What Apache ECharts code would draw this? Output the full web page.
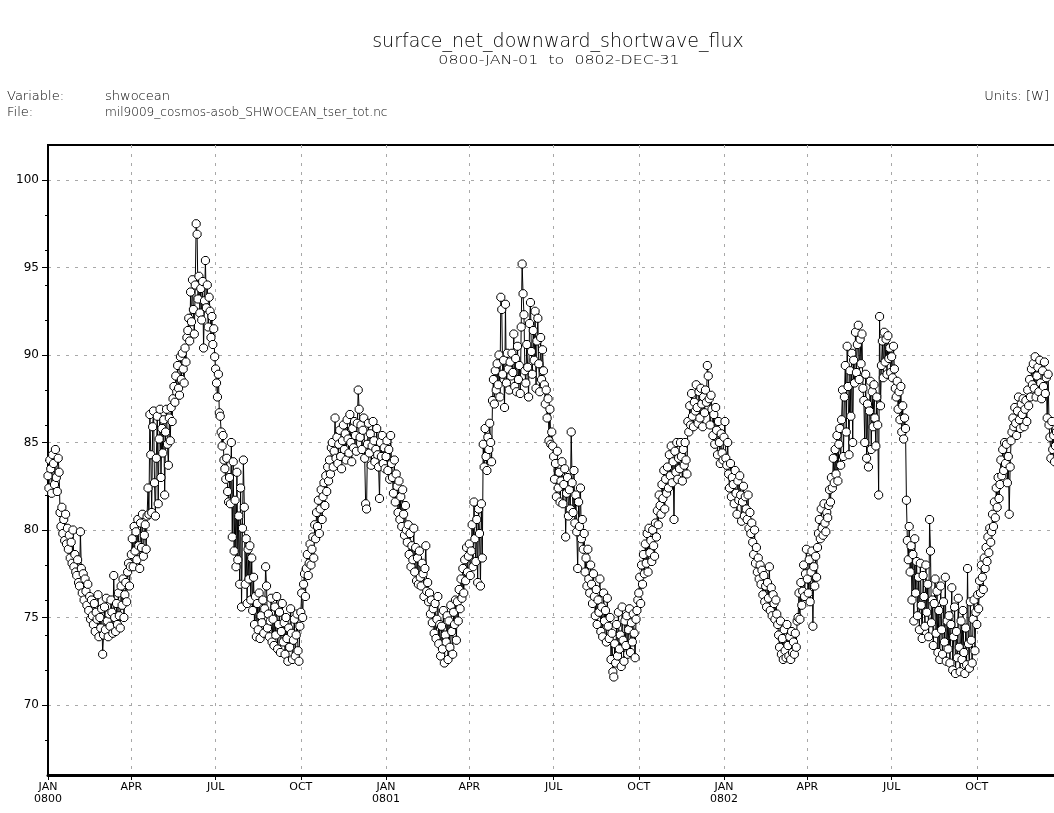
<!DOCTYPE html>
<html>
<head>
<meta charset="utf-8">
<script src="https://cdn.jsdelivr.net/npm/echarts@6/dist/echarts.min.js"></script>
<style>
  html, body { margin: 0; padding: 0; background: #fff; }
  #chart { width: 1054px; height: 813px; }
</style>
</head>
<body>
<div id="chart"></div>
<script>
// noleap calendar, one value per day
const years = ['0800', '0801', '0802']
const quarterNames = ['JAN', 'APR', 'JUL', 'OCT']
const quarterStarts = [0, 90, 181, 273]
const monthNames = ['JAN','FEB','MAR','APR','MAY','JUN','JUL','AUG','SEP','OCT','NOV','DEC']
const monthDays = [31, 28, 31, 30, 31, 30, 31, 31, 30, 31, 30, 31]
const yTicks = [70, 75, 80, 85, 90, 95, 100]

const shw0800 = [
  83.1, 82.4, 84.0, 83.5, 82.1, 84.3, 83.8, 82.6, 84.6, 83.0, 82.2, 84.1, 83.3,
  81.0, 80.2, 81.3, 79.8, 80.6, 79.4, 80.9, 79.2, 80.1, 78.9, 79.7, 78.4, 79.3, 78.1, 80.0, 77.9, 78.6, 77.6,
  77.4, 78.3, 77.0, 76.8, 79.9, 77.8, 76.4, 77.5, 76.0, 77.2, 76.5, 75.7, 76.9, 75.4, 76.2, 74.9, 76.0, 75.1, 74.6, 75.8, 74.2, 75.3, 74.9, 76.3, 73.9, 75.0, 74.4, 75.5,
  72.9, 74.0, 75.6, 74.3, 76.1, 74.8, 73.9, 75.2, 74.5, 76.0, 75.3, 74.1, 77.4, 75.0, 74.2, 75.8, 74.6, 76.4, 75.1, 74.4, 76.8, 75.7, 77.2, 75.0, 76.3, 77.0, 75.9, 77.6, 78.1, 76.8, 77.9,
  78.6, 79.5, 77.9, 80.2, 78.8, 79.9, 78.3, 80.6, 79.1, 77.8, 80.4, 79.0, 80.9, 78.5, 79.7, 80.3, 78.9, 80.8, 82.4, 80.9, 86.6, 84.3, 81.0, 85.9, 86.8, 82.7, 80.8, 84.1, 86.5, 81.5,
  85.2, 86.9, 83.0, 85.8, 84.4, 86.3, 82.0, 85.6, 86.9, 84.9, 83.7, 86.4, 85.1, 87.0, 86.2, 87.5, 88.2, 87.3, 88.8, 87.9, 89.4, 88.1, 87.7, 89.9, 88.6, 90.1, 89.2, 88.4, 90.4, 89.6, 91.0,
  91.4, 92.1, 90.8, 93.6, 91.9, 94.3, 92.6, 91.2, 94.0, 97.5, 96.9, 93.2, 94.5, 92.4, 93.8, 92.0, 94.2, 90.4, 93.1, 95.4, 92.7, 94.0, 91.6, 93.3, 92.5, 91.0, 92.2, 90.6, 91.5, 89.9,
  89.2, 88.4, 87.6, 88.9, 86.7, 86.5, 85.6, 84.8, 85.4, 84.0, 83.5, 82.9, 84.1, 82.2, 81.6, 83.0, 81.5, 85.0, 79.6, 83.9, 78.8, 81.7, 77.9, 83.3, 78.3, 80.8, 76.9, 82.4, 75.6, 80.1, 84.0,
  81.3, 76.9, 79.5, 75.8, 78.9, 77.2, 79.1, 76.0, 78.4, 75.4, 77.3, 74.6, 76.2, 73.9, 75.8, 74.3, 76.4, 73.8, 75.1, 74.7, 76.0, 74.1, 75.5, 77.9, 76.8, 74.4, 75.2, 73.9, 74.8, 76.1, 73.6,
  74.9, 73.4, 75.6, 74.0, 76.2, 73.2, 74.6, 75.3, 73.0, 74.2, 75.8, 73.6, 74.7, 72.9, 75.0, 73.8, 72.5, 74.4, 73.3, 75.5, 74.1, 72.6, 73.7, 74.9, 72.8, 74.0, 75.2, 73.1, 72.5, 74.5,
  75.3, 76.4, 75.0, 76.9, 77.5, 76.2, 77.8, 78.6, 77.4, 78.1, 79.2, 78.0, 78.9, 79.6, 78.4, 80.3, 79.5, 81.0, 80.2, 81.7, 79.8, 81.2, 82.3, 80.6, 81.9, 82.7, 81.4, 83.1, 82.2, 83.6, 82.8,
  84.0, 83.2, 84.7, 85.0, 83.6, 84.5, 86.4, 84.1, 85.3, 83.8, 84.9, 85.7, 84.2, 83.5, 85.1, 86.0, 84.6, 85.5, 84.0, 86.3, 85.2, 84.4, 86.6, 85.0, 83.9, 85.8, 84.7, 86.2, 85.4, 84.5,
  86.1, 88.0, 86.9, 85.3, 86.0, 84.6, 85.7, 86.4, 84.1, 81.5, 81.2, 84.9, 86.1, 84.4, 85.5, 83.7, 84.8, 86.2, 85.1, 83.9, 84.6, 85.8, 84.3, 83.6, 81.8, 85.0, 84.2, 85.4, 83.8, 84.7, 83.5
]

const shw0801 = [
  84.2, 85.1, 83.4, 84.6, 82.9, 85.4, 83.8, 83.0, 82.1, 84.0, 81.6, 83.2, 82.5, 81.0, 82.8, 80.6, 81.9, 80.2, 82.3, 80.9, 79.7, 81.4, 80.0, 79.3, 80.3, 78.6, 79.8, 77.9, 79.1, 78.3, 80.1,
  77.6, 79.0, 77.1, 78.4, 76.9, 78.8, 77.3, 76.8, 78.1, 77.5, 76.2, 77.8, 79.1, 76.5, 77.0, 75.9, 76.4, 75.2, 76.0, 74.7, 75.5, 74.1, 75.8, 73.8, 74.9, 76.2, 73.5, 74.6,
  72.8, 74.5, 73.2, 75.4, 72.4, 74.0, 73.6, 75.1, 72.6, 74.8, 73.3, 75.7, 74.2, 72.9, 75.3, 74.6, 76.0, 73.7, 75.9, 74.8, 76.6, 75.5, 77.2, 76.1, 77.8, 76.4, 78.3, 77.1, 79.0, 77.6, 78.5,
  79.2, 77.4, 78.8, 80.3, 77.9, 81.6, 79.5, 78.2, 80.6, 77.0, 81.2, 79.8, 76.8, 81.5, 78.4, 84.9, 83.6, 85.8, 84.2, 83.4, 85.3, 84.6, 86.1, 85.0, 83.9, 87.4, 88.6, 87.2, 89.1, 88.0,
  89.5, 88.3, 90.0, 87.6, 93.3, 92.6, 88.9, 89.7, 87.0, 92.9, 88.4, 90.1, 89.2, 88.0, 89.6, 88.8, 90.1, 89.0, 91.2, 88.2, 89.8, 87.9, 90.5, 88.6, 89.4, 87.8, 91.6, 95.2, 93.5, 92.3, 89.1,
  88.4, 90.6, 89.3, 87.6, 91.8, 93.0, 90.2, 88.9, 91.4, 89.7, 92.5, 88.1, 90.8, 92.1, 89.5, 87.9, 91.0, 88.6, 90.3, 89.1, 88.3, 87.2, 88.0, 86.4, 87.5, 85.1, 86.9, 84.9, 85.6, 84.8,
  84.2, 82.9, 83.8, 81.9, 84.5, 82.4, 83.3, 81.6, 82.8, 83.9, 81.5, 82.6, 83.5, 79.6, 82.1, 83.0, 80.8, 82.3, 81.2, 85.6, 82.7, 81.0, 83.4, 80.4, 82.0, 79.9, 77.8, 81.6, 80.2, 82.4, 79.5,
  80.6, 78.9, 79.8, 77.6, 78.4, 76.8, 78.9, 77.2, 76.4, 78.0, 76.9, 75.8, 77.5, 76.2, 75.1, 76.6, 74.6, 76.0, 75.3, 77.2, 74.2, 75.6, 73.9, 76.4, 74.8, 75.4, 73.6, 76.1, 74.5, 73.8, 75.0,
  72.6, 74.1, 71.9, 71.6, 73.5, 72.4, 74.6, 72.8, 75.3, 73.2, 74.0, 72.2, 75.6, 73.7, 72.5, 74.8, 73.4, 75.1, 72.9, 74.3, 75.5, 73.0, 74.7, 73.6, 75.2, 74.1, 72.7, 74.9, 75.4, 76.0,
  76.4, 77.3, 75.8, 78.0, 76.9, 78.6, 77.5, 79.2, 78.1, 79.8, 77.6, 80.1, 78.7, 79.4, 78.2, 80.0, 79.1, 78.5, 80.4, 79.6, 81.1, 80.3, 82.0, 81.4, 80.9, 82.6, 81.8, 83.4, 81.2, 82.9, 82.1,
  83.6, 82.4, 84.3, 83.1, 84.8, 82.7, 83.9, 80.6, 84.5, 83.3, 85.0, 82.9, 84.1, 83.5, 85.0, 84.2, 82.8, 84.6, 83.7, 85.0, 84.0, 83.2, 86.2, 85.6, 87.1, 86.0, 87.8, 86.5, 85.9, 87.3,
  86.8, 88.3, 87.0, 86.1, 87.9, 86.4, 88.1, 87.2, 85.9, 87.6, 86.7, 88.0, 87.3, 89.4, 88.8, 87.5, 86.0, 87.7, 86.9, 85.4, 86.6, 84.9, 87.0, 85.7, 84.3, 86.2, 85.0, 83.8, 85.5, 84.4, 84.0
]

const shw0802 = [
  85.3, 86.2, 84.1, 83.7, 85.0, 83.2, 82.4, 83.8, 81.9, 83.0, 82.6, 81.5, 83.4, 82.1, 80.9, 82.8, 81.7, 83.1, 82.0, 80.5, 81.6, 82.5, 80.8, 81.9, 81.2, 80.6, 82.0, 80.1, 81.0, 79.8, 80.4,
  79.3, 78.6, 80.0, 78.1, 79.0, 77.6, 78.4, 77.2, 78.0, 76.9, 77.7, 76.3, 77.4, 75.9, 76.8, 75.6, 77.0, 76.1, 77.9, 75.4, 76.7, 75.1, 76.3, 75.8, 74.9, 76.0, 75.2, 74.6,
  74.0, 73.3, 74.8, 72.9, 73.8, 72.6, 74.3, 73.1, 72.7, 74.6, 73.4, 72.8, 73.9, 72.6, 74.2, 73.0, 73.6, 72.9, 74.1, 73.3, 74.8, 75.0, 76.4, 74.9, 77.0, 75.7, 76.5, 78.0, 76.2, 77.5, 78.9,
  77.2, 76.4, 78.3, 75.9, 77.6, 78.8, 74.5, 77.9, 76.8, 78.5, 77.3, 79.0, 79.8, 80.6, 79.5, 81.2, 80.1, 79.7, 81.5, 80.4, 79.9, 81.0, 80.7, 81.4, 82.3, 81.6, 83.0, 82.4, 84.1, 82.7,
  84.6, 83.2, 85.4, 82.8, 84.9, 85.8, 83.7, 86.3, 88.0, 84.2, 87.6, 89.4, 85.6, 90.5, 88.2, 84.3, 89.1, 86.5, 90.1, 85.0, 89.7, 88.4, 91.3, 89.0, 90.6, 91.7, 88.6, 90.9, 89.5, 91.2, 88.1,
  87.4, 85.0, 88.9, 84.1, 87.2, 83.6, 86.8, 88.5, 84.6, 87.9, 85.9, 88.3, 86.4, 84.8, 87.6, 86.0, 82.0, 92.2, 87.1, 89.4, 90.8, 88.7, 91.3, 89.6, 90.9, 88.9, 91.1, 89.8, 90.4, 89.0,
  89.9, 88.7, 90.5, 89.2, 88.1, 87.6, 88.5, 86.9, 87.9, 86.3, 88.2, 85.6, 87.1, 85.2, 86.4, 85.8, 81.7, 79.4, 78.3, 80.2, 77.6, 79.1, 76.0, 78.6, 74.8, 79.5, 76.4, 78.2, 75.1, 77.3, 74.3,
  78.1, 75.7, 73.8, 77.4, 76.2, 74.5, 78.0, 75.3, 76.9, 73.9, 80.6, 78.8, 74.7, 76.0, 73.4, 75.8, 77.2, 74.1, 76.5, 73.0, 75.4, 72.6, 76.8, 74.3, 72.9, 75.9, 73.6, 77.3, 72.5, 74.8, 73.2,
  75.1, 72.4, 74.6, 76.7, 72.0, 73.9, 75.6, 71.8, 74.2, 72.7, 76.1, 73.3, 71.9, 74.8, 72.6, 75.4, 73.0, 71.8, 74.4, 72.3, 77.8, 73.5, 72.1, 75.9, 73.7, 72.4, 74.9, 76.0, 73.1, 75.3,
  74.6, 76.3, 75.5, 77.1, 76.4, 78.0, 77.3, 76.6, 78.4, 77.8, 79.0, 78.2, 79.6, 78.7, 80.1, 79.3, 79.9, 80.9, 80.2, 81.6, 80.7, 82.4, 81.3, 83.0, 81.8, 82.6, 84.0, 83.1, 84.6, 83.4, 85.0,
  83.8, 84.9, 82.7, 84.2, 80.9, 83.6, 85.1, 85.6, 86.4, 85.9, 87.0, 86.1, 85.4, 86.8, 87.6, 86.3, 85.8, 87.2, 86.6, 87.5, 85.9, 86.9, 87.4, 86.2, 88.0, 87.1, 88.6, 87.6, 89.2, 88.3,
  89.5, 88.1, 89.9, 87.6, 88.8, 89.3, 87.9, 89.7, 88.4, 87.5, 89.1, 88.2, 89.6, 87.8, 88.7, 86.4, 88.9, 86.0, 85.3, 84.1, 86.2, 84.6, 85.4, 83.9, 84.8, 85.6, 84.3, 85.1, 84.7, 85.9, 84.5
]

// day categories; one extra (JAN 0803) so the axis ends on the year boundary
const categories = []
const tickLabel = {}
years.concat(['0803']).forEach((yr, yi) => {
  if (yi === 3) {
    tickLabel[categories.length] = ''
    categories.push(yr + '-JAN-01')
    return
  }
  monthNames.forEach((mn, mi) => {
    for (let d = 1; d <= monthDays[mi]; d++) {
      const doy = categories.length - yi * 365
      const q = quarterStarts.indexOf(doy)
      if (q >= 0) tickLabel[categories.length] = q === 0 ? 'JAN\n' + yr : quarterNames[q]
      categories.push(yr + '-' + mn + '-' + String(d).padStart(2, '0'))
    }
  })
})
const values = shw0800.concat(shw0801, shw0802)

const isTick = (idx) => tickLabel[idx] !== undefined
const font = 'DejaVu Sans'
const txt = (x, y, text, size, opts = {}) => ({
  type: 'text', x, y, scaleX: opts.sx || 1,
  style: {
    text, font: (opts.w || 'normal') + ' ' + size + 'px "' + font + '"',
    fill: '#000', align: opts.align || 'left', verticalAlign: 'middle'
  }
})

const chart = echarts.init(document.getElementById('chart'))
chart.setOption({
  animation: false,
  backgroundColor: '#fff',
  textStyle: { fontFamily: font },
  grid: {
    left: 48, top: 145, bottom: 38, right: -8,
    show: true, borderColor: '#000', borderWidth: 2,
    outerBoundsMode: 'none', containLabel: false
  },
  graphic: [
    txt(558, 42, 'surface_net_downward_shortwave_flux', 19, { w: 200, align: 'center' }),
    txt(559, 61, '0800-JAN-01  to  0802-DEC-31', 13, { w: 200, align: 'center', sx: 1.22 }),
    txt(7, 97, 'Variable:', 13, { w: 200 }),
    txt(105, 97, 'shwocean', 13, { w: 200 }),
    txt(7, 113, 'File:', 13, { w: 200 }),
    txt(105, 113, 'mil9009_cosmos-asob_SHWOCEAN_tser_tot.nc', 13, { w: 200, sx: 0.93 }),
    txt(1049, 97, 'Units: [W]', 13, { w: 200, align: 'right' })
  ],
  xAxis: {
    type: 'category',
    data: categories,
    boundaryGap: false,
    axisLine: { lineStyle: { color: '#000', width: 3 } },
    axisTick: { interval: (i) => isTick(i), length: 5, inside: false, lineStyle: { color: '#000', width: 1 } },
    axisLabel: {
      interval: (i) => isTick(i),
      formatter: (v, i) => tickLabel[i] || '',
      color: '#000', fontSize: 11, lineHeight: 12, margin: 6
    },
    splitLine: { show: true, interval: (i) => isTick(i), lineStyle: { color: '#a8a8a8', type: [3, 6], width: 1 } }
  },
  yAxis: {
    type: 'value',
    min: 66, max: 102,
    axisLine: { show: true, lineStyle: { color: '#000', width: 2 } },
    axisTick: { show: true, customValues: yTicks, length: 6, lineStyle: { color: '#000' } },
    minorTick: { show: true, splitNumber: 5, length: 3, lineStyle: { color: '#000' } },
    axisLabel: { customValues: yTicks, color: '#000', fontSize: 12, margin: 9 },
    splitLine: { show: true, lineStyle: { color: '#a8a8a8', type: [3, 6], width: 1 } }
  },
  series: [{
    type: 'line',
    data: values,
    showAllSymbol: true,
    symbol: 'path://M3,0 L7,0 L10,3 L10,7 L7,10 L3,10 L0,7 L0,3 Z',
    symbolSize: 8,
    itemStyle: { color: '#fff', borderColor: '#000', borderWidth: 1 },
    lineStyle: { color: '#000', width: 1 },
    emphasis: { disabled: true }
  }]
})
</script>
</body>
</html>
